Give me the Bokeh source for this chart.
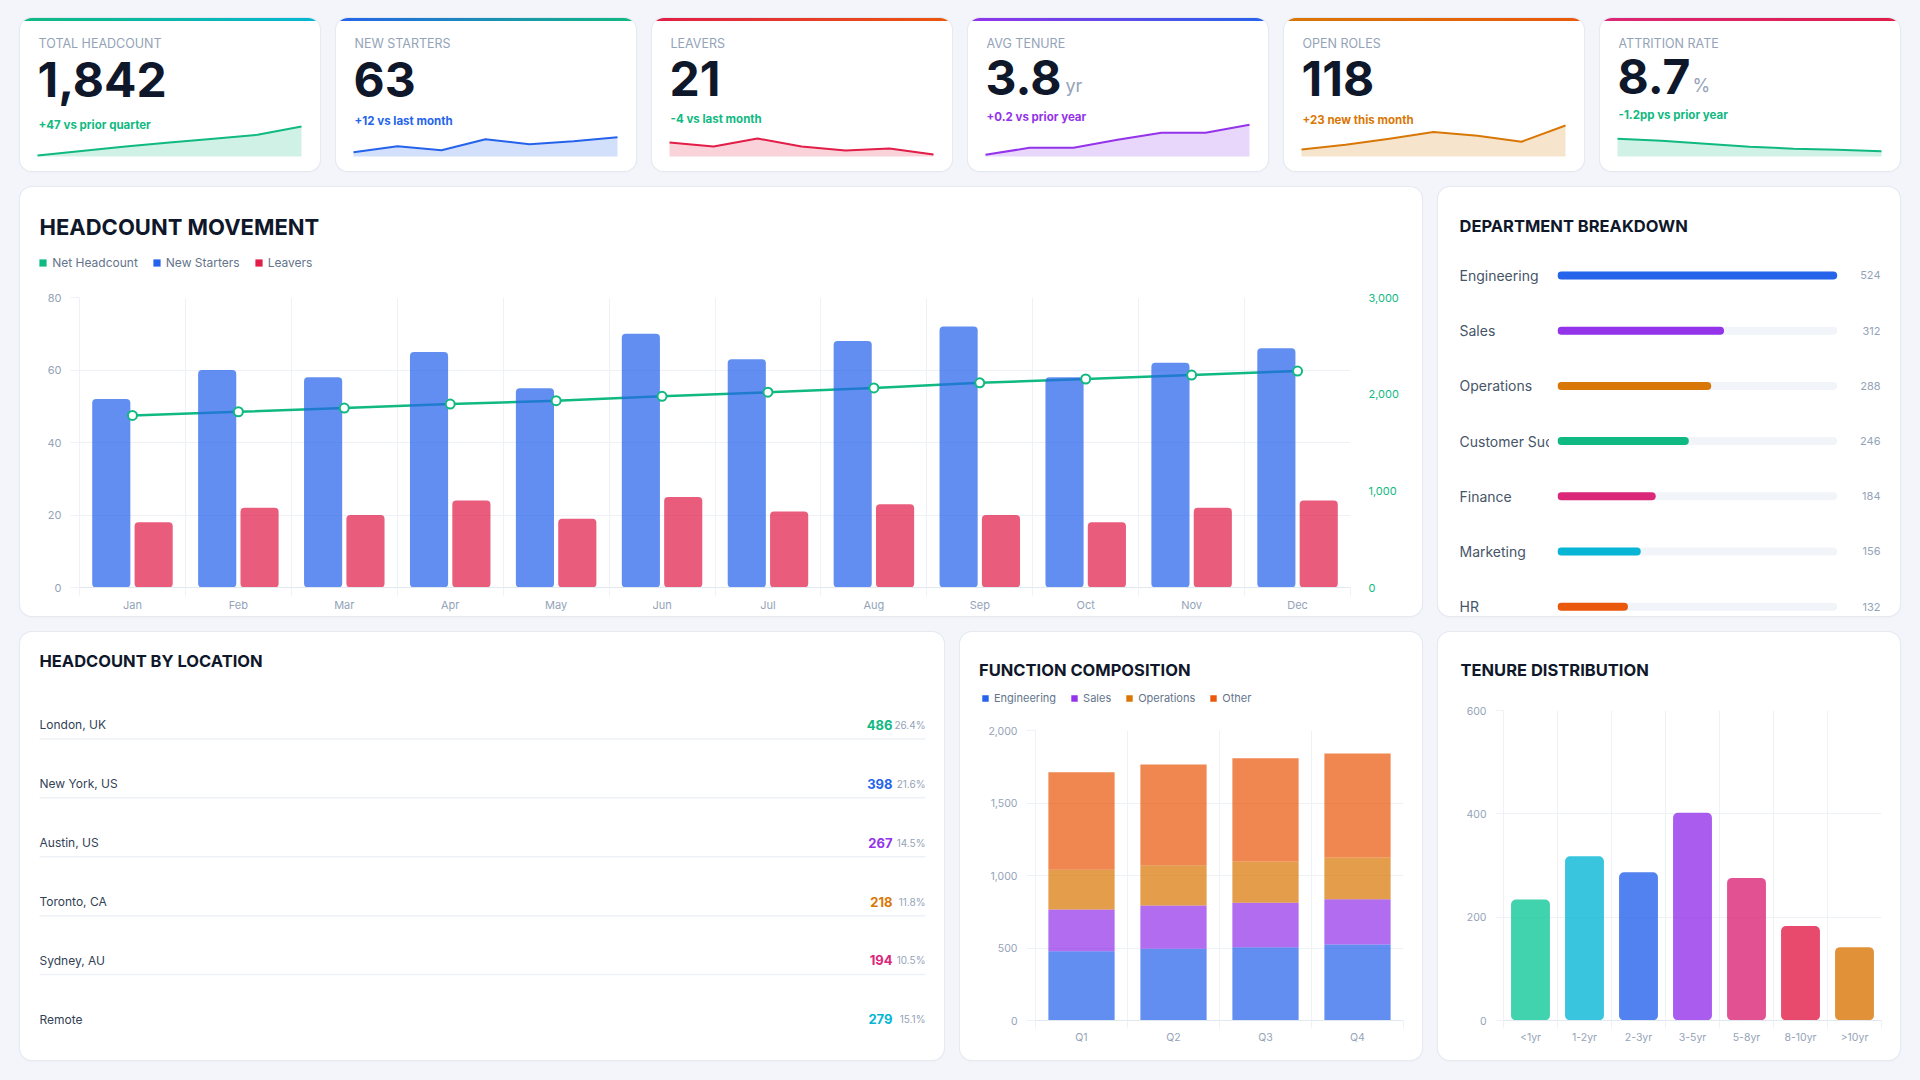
from bokeh.plotting import figure
from bokeh.layouts import row, column
from bokeh.models import (Range1d, LinearAxis, FixedTicker, NumeralTickFormatter, Label,
                          Legend, LegendItem, Grid, ColumnDataSource)
from bokeh.core.properties import value
from bokeh.embed import file_html
from bokeh.resources import INLINE

# ------------------------------------------------------------------ data
kpi_labels = ["TOTAL HEADCOUNT", "NEW STARTERS", "LEAVERS", "AVG TENURE", "OPEN ROLES", "ATTRITION RATE"]
kpi_values = ["1,842", "63", "21", "3.8", "118", "8.7"]
kpi_suffix = ["", "", "", "yr", "", "%"]
kpi_deltas = ["+47 vs prior quarter", "+12 vs last month", "-4 vs last month",
              "+0.2 vs prior year", "+23 new this month", "-1.2pp vs prior year"]
spark_headcount = [1790, 1798, 1806, 1813, 1820, 1827, 1842]
spark_starters = [48, 54, 50, 61, 56, 59, 63]
spark_leavers = [27, 25, 29, 25, 23, 24, 21]
spark_tenure = [3.5, 3.57, 3.57, 3.65, 3.72, 3.72, 3.8]
spark_open_roles = [78, 86, 96, 107, 101, 91, 118]
spark_attrition = [11.2, 10.8, 10.2, 9.6, 9.2, 9.0, 8.7]

months = ["Jan", "Feb", "Mar", "Apr", "May", "Jun", "Jul", "Aug", "Sep", "Oct", "Nov", "Dec"]
new_starters = [52, 60, 58, 65, 55, 70, 63, 68, 72, 58, 62, 66]
leavers = [18, 22, 20, 24, 19, 25, 21, 23, 20, 18, 22, 24]
net_headcount = [1780, 1818, 1856, 1897, 1933, 1978, 2020, 2065, 2117, 2157, 2197, 2239]

departments = ["Engineering", "Sales", "Operations", "Customer Success", "Finance", "Marketing", "HR"]
dept_counts = [524, 312, 288, 246, 184, 156, 132]

locations = ["London, UK", "New York, US", "Austin, US", "Toronto, CA", "Sydney, AU", "Remote"]
loc_counts = [486, 398, 267, 218, 194, 279]
loc_pcts = ["26.4%", "21.6%", "14.5%", "11.8%", "10.5%", "15.1%"]

quarters = ["Q1", "Q2", "Q3", "Q4"]
func_engineering = [478, 494, 506, 524]
func_sales = [288, 299, 306, 312]
func_operations = [274, 278, 285, 288]
func_other = [672, 694, 712, 718]

tenure_bands = ["<1yr", "1-2yr", "2-3yr", "3-5yr", "5-8yr", "8-10yr", ">10yr"]
tenure_counts = [234, 318, 287, 402, 276, 183, 142]

# ------------------------------------------------------------------ style
FONT = "Inter"
INK = "#0f172a"
MUTED = "#94a3b8"
SUB = "#64748b"
GRID = "#eef1f5"
GREEN, BLUE, RED, PURPLE = "#10b981", "#2563eb", "#e11d48", "#9333ea"
AMBER, ORANGE, PINK, CYAN = "#d97706", "#ea580c", "#db2777", "#06b6d4"
SHADOW = "0 0 0 1px #e5e9f0, 0 1px 3px rgba(15,23,42,0.05)"


def card_css(bg="#ffffff"):
    return {"border-radius": "12px", "overflow": "hidden", "box-shadow": SHADOW, "background": bg}


def base_fig(w, h, l, r, t, b, xr, yr):
    return figure(width=w, height=h, x_range=xr, y_range=yr, x_axis_type=None, y_axis_type=None,
                  toolbar_location=None, output_backend="svg",
                  min_border_left=l, min_border_right=r, min_border_top=t, min_border_bottom=b,
                  border_fill_color=None, background_fill_color=None, outline_line_color=None)


def put(p, text, cx, cy, fl, fb, size, color, bold=False, align="left", baseline="middle"):
    # cx, cy: canvas position (from top-left); fl, fb: frame left / frame bottom on the canvas
    p.add_layout(Label(x=cx - fl, y=fb - cy, x_units="screen", y_units="screen", text=text,
                       text_font=FONT, text_font_size=f"{size}px", text_color=color,
                       text_font_style="bold" if bold else "normal",
                       text_align=align, text_baseline=baseline))


def style_axis(ax, color=MUTED, size="11px"):
    ax.major_label_text_font = FONT
    ax.major_label_text_font_size = size
    ax.major_label_text_color = color


def legend(p, labels, colors, loc, size, glyph):
    # zero-height swatch renderers: they draw nothing, they only feed the legend
    items = []
    for lab, c in zip(labels, colors):
        r = p.vbar(x=[0.5], top=[0], bottom=0, width=0.01, fill_color=c, line_color=None)
        items.append(LegendItem(label=lab, renderers=[r]))
    lg = Legend(items=items, orientation="horizontal", location=loc, glyph_width=glyph,
                glyph_height=glyph, label_height=glyph, label_standoff=5, spacing=14, padding=0,
                margin=0, border_line_color=None, background_fill_alpha=0,
                label_text_font=FONT, label_text_font_size=size, label_text_color=SUB)
    p.add_layout(lg)


def header(w, h):
    return base_fig(w, h, 0, 0, 0, 0, Range1d(0, 1), Range1d(0, 1))


def band_axis(p, centers, names, n, size):
    # labels at band centres, small tick marks at band boundaries (minor ticks)
    ax = LinearAxis(ticker=FixedTicker(ticks=centers, minor_ticks=list(range(n + 1))),
                    major_label_overrides={c: m for c, m in zip(centers, names)},
                    axis_line_color="#e2e8f0", major_tick_line_color=None, major_tick_out=0,
                    major_tick_in=0, minor_tick_line_color=GRID, minor_tick_out=8, minor_tick_in=0,
                    major_label_standoff=2)
    style_axis(ax, size=size)
    p.add_layout(ax, "below")


def value_axis(p, ticks, size, tick_out, fmt=None):
    ax = LinearAxis(ticker=FixedTicker(ticks=ticks), axis_line_color=GRID,
                    major_tick_line_color=GRID, major_tick_out=tick_out, major_tick_in=0,
                    minor_tick_line_color=None, major_label_standoff=9)
    if fmt:
        ax.formatter = NumeralTickFormatter(format=fmt)
    style_axis(ax, size=size)
    p.add_layout(ax, "left")


# ------------------------------------------------------------------ KPI cards
spark_series = [spark_headcount, spark_starters, spark_leavers, spark_tenure, spark_open_roles, spark_attrition]
spark_ranges = [(1788, 1867), (43.7, 87.7), (20, 42), (3.483, 3.923), (66.3, 139.7), (7.64, 16.44)]
spark_colors = [GREEN, BLUE, RED, PURPLE, AMBER, GREEN]
delta_colors = [GREEN, BLUE, GREEN, PURPLE, AMBER, GREEN]
top_grad = [(GREEN, CYAN), (BLUE, GREEN), (RED, ORANGE), (PURPLE, BLUE), (AMBER, ORANGE), (PINK, RED)]
value_mid = [61.2, 61.2, 60.3, 58.7, 60.3, 58.3]
delta_y = [106.3, 102, 100.3, 98.7, 101, 96.3]
suffix_x = [0, 0, 0, 97, 0, 92]

kpis = []
KW, KH = 300, 153
sl, sr, st, sb = 17, 281, 94, 138   # sparkline box inside the card
for i in range(6):
    vals = spark_series[i]
    lo, hi = spark_ranges[i]
    xs = list(range(len(vals)))
    pxx = (sr - sl) / (len(vals) - 1)
    ky = (hi - lo) / (sb - st)
    c1, c2 = top_grad[i]
    p = base_fig(KW, KH, 0, 0, 0, 0,
                 Range1d(-sl / pxx, (KW - sl) / pxx),
                 Range1d(lo - (KH - sb) * ky, hi + st * ky))
    p.varea(x=xs, y1=lo, y2=vals, fill_color=spark_colors[i], fill_alpha=0.2)
    p.line(xs, vals, line_color=spark_colors[i], line_width=2, line_join="round")
    put(p, kpi_labels[i], 18, 24.7, 0, KH, 12.5, MUTED)
    put(p, kpi_values[i], 17, value_mid[i], 0, KH, 48, INK, bold=True)
    if kpi_suffix[i]:
        put(p, kpi_suffix[i], suffix_x[i], 66.5, 0, KH, 18, MUTED)
    put(p, kpi_deltas[i], 18, delta_y[i], 0, KH, 11.5, delta_colors[i], bold=True)
    kpis.append(column(p, styles=card_css(
        f"linear-gradient(#ffffff, #ffffff) 0 3px / 100% 100% no-repeat, linear-gradient(90deg, {c1}, {c2})")))

# ------------------------------------------------------------------ Headcount movement
MW, MH, MHH = 1402, 429, 100
ml, mr, mt, mb = 59, 72, 10, 29
n = len(months)
centers = [i + 0.5 for i in range(n)]
mh = header(MW, MHH)
put(mh, "HEADCOUNT MOVEMENT", 19, 39.7, 0, MHH, 22, INK, bold=True)
legend(mh, ["Net Headcount", "New Starters", "Leavers"], [GREEN, BLUE, RED], (18.2, MHH - 83.2), "12px", 9)

mp = base_fig(MW, MH - MHH, ml, mr, mt, mb, Range1d(0, n), Range1d(0, 80))
mp.extra_y_ranges = {"hc": Range1d(0, 3000)}
mp.add_layout(Grid(dimension=0, ticker=FixedTicker(ticks=list(range(n + 1))), grid_line_color=GRID))
mp.add_layout(Grid(dimension=1, ticker=FixedTicker(ticks=[0, 20, 40, 60, 80]), grid_line_color=GRID))
msrc = ColumnDataSource(dict(c=centers, s=new_starters, l=leavers, net=net_headcount,
                             xs=[c - 0.2 for c in centers], xl=[c + 0.2 for c in centers]))
mp.line("c", "net", source=msrc, y_range_name="hc", line_color=GREEN, line_width=2.5)
mp.vbar(x="xs", top="s", source=msrc, width=0.36, fill_color=BLUE, fill_alpha=0.72,
        line_color=None, border_radius=4)
mp.vbar(x="xl", top="l", source=msrc, width=0.36, fill_color=RED, fill_alpha=0.72,
        line_color=None, border_radius=4)
mp.scatter("c", "net", source=msrc, y_range_name="hc", size=9, fill_color="white",
           line_color=GREEN, line_width=2)
band_axis(mp, centers, months, n, "11px")
value_axis(mp, [0, 20, 40, 60, 80], "11px", 9)
rax = LinearAxis(y_range_name="hc", ticker=FixedTicker(ticks=[0, 1000, 2000, 3000]),
                 formatter=NumeralTickFormatter(format="0,0"), axis_line_color=None,
                 major_tick_line_color=None, minor_tick_line_color=None, major_tick_out=0,
                 major_label_standoff=18)
style_axis(rax, color=GREEN)
mp.add_layout(rax, "right")
move_card = column(mh, row(mp), spacing=0, styles=card_css())

# ------------------------------------------------------------------ Department breakdown
DW = 462
dept_colors = [BLUE, PURPLE, AMBER, GREEN, PINK, CYAN, ORANGE]
didx = list(range(len(departments)))
dmax = max(dept_counts)
dy_range = Range1d(6.178, -0.507)
dt = header(DW, 60)
put(dt, "DEPARTMENT BREAKDOWN", 21, 38, 0, 60, 16.5, INK, bold=True)
dn = base_fig(111, 369, 21, 0, 0, 0, Range1d(0, 1), dy_range)
dn.text(x=0, y=didx, text=departments, text_font=value(FONT), text_font_size="14px",
        text_color="#475569", text_baseline="middle", text_align="left")
db = base_fig(351, 369, 8, 15, 0, 0, Range1d(0, dmax * 328 / 279.7), dy_range)
db.hbar(y=didx, left=0, right=dmax, height=0.145, fill_color="#f1f5f9", line_color=None, border_radius=4)
db.hbar(y=didx, left=0, right=dept_counts, height=0.145, fill_color=dept_colors, line_color=None,
        border_radius=4)
db.text(x=dmax * 323 / 279.7, y=didx, text=[str(v) for v in dept_counts], text_font=value(FONT),
        text_font_size="11px", text_color=MUTED, text_baseline="middle", text_align="right")
dept_card = column(dt, row(dn, db, spacing=0), spacing=0, styles=card_css())

# ------------------------------------------------------------------ Headcount by location
LW, LH = 924, 428
loc_colors = [GREEN, BLUE, PURPLE, AMBER, PINK, CYAN]
lidx = list(range(len(locations)))
row0, rstep, lx0, lx1 = 92.3, 58.9, 19, 905     # list geometry inside the card
lp = base_fig(LW, LH, 0, 0, 0, 0,
              Range1d(-lx0 / (lx1 - lx0), (LW - lx0) / (lx1 - lx0)),
              Range1d((LH - row0) / rstep, -row0 / rstep))
lp.segment(x0=0, x1=1, y0=[i + 0.24 for i in lidx[:-1]], y1=[i + 0.24 for i in lidx[:-1]],
           line_color="#eef2f6", line_width=1.5)
lp.text(x=0, y=lidx, text=locations, text_font=value(FONT), text_font_size="12px",
        text_color="#334155", text_baseline="middle", text_align="left")
lp.text(x=1, y=lidx, text=[str(v) for v in loc_counts], x_offset=-33, text_font=value(FONT),
        text_font_size="13px", text_font_style="bold", text_color=loc_colors,
        text_baseline="middle", text_align="right")
lp.text(x=1, y=lidx, text=loc_pcts, text_font=value(FONT), text_font_size="10px",
        text_color=MUTED, text_baseline="middle", text_align="right")
put(lp, "HEADCOUNT BY LOCATION", 19, 28, 0, LH, 16.5, INK, bold=True)
loc_card = column(lp, styles=card_css())

# ------------------------------------------------------------------ Function composition
FW, FH, FHH = 462, 428, 88
fl_, fr_, ft_, fb_ = 75, 19, 10, 40
qc = [i + 0.5 for i in range(len(quarters))]
fh = header(FW, FHH)
put(fh, "FUNCTION COMPOSITION", 18.5, 37.3, 0, FHH, 16.5, INK, bold=True)
legend(fh, ["Engineering", "Sales", "Operations", "Other"], [BLUE, PURPLE, AMBER, ORANGE],
       (21, FHH - 72.7), "11px", 8)
fp = base_fig(FW, FH - FHH, fl_, fr_, ft_, fb_, Range1d(0, len(quarters)), Range1d(0, 2000))
fp.add_layout(Grid(dimension=0, ticker=FixedTicker(ticks=list(range(len(quarters) + 1))), grid_line_color=GRID))
fp.add_layout(Grid(dimension=1, ticker=FixedTicker(ticks=[0, 500, 1000, 1500, 2000]), grid_line_color=GRID))
fsrc = ColumnDataSource(dict(x=qc, eng=func_engineering, sales=func_sales, ops=func_operations, other=func_other))
fp.vbar_stack(["eng", "sales", "ops", "other"], x="x", width=0.72, source=fsrc,
              fill_color=[BLUE, PURPLE, AMBER, ORANGE], fill_alpha=0.72, line_color=None)
band_axis(fp, qc, quarters, len(quarters), "10.5px")
value_axis(fp, [0, 500, 1000, 1500, 2000], "10.5px", 9, fmt="0,0")
func_card = column(fh, row(fp), spacing=0, styles=card_css())

# ------------------------------------------------------------------ Tenure distribution
TW, TH, THH = 462, 428, 68
tl_, tr_, tt_, tb_ = 65, 19, 10, 40
tc = [i + 0.5 for i in range(len(tenure_bands))]
tenure_colors = ["#12c79a", CYAN, BLUE, PURPLE, PINK, RED, AMBER]
th = header(TW, THH)
put(th, "TENURE DISTRIBUTION", 22, 37.3, 0, THH, 16.5, INK, bold=True)
tp = base_fig(TW, TH - THH, tl_, tr_, tt_, tb_, Range1d(0, len(tenure_bands)), Range1d(0, 600))
tp.add_layout(Grid(dimension=0, ticker=FixedTicker(ticks=list(range(len(tenure_bands) + 1))), grid_line_color=GRID))
tp.add_layout(Grid(dimension=1, ticker=FixedTicker(ticks=[0, 200, 400, 600]), grid_line_color=GRID))
tp.vbar(x=tc, top=tenure_counts, width=0.72, fill_color=tenure_colors, fill_alpha=0.8,
        line_color=None, border_radius=5)
band_axis(tp, tc, tenure_bands, len(tenure_bands), "10.5px")
value_axis(tp, [0, 200, 400, 600], "10.5px", 8)
ten_card = column(th, row(tp), spacing=0, styles=card_css())

# ------------------------------------------------------------------ page
root = column(
    row(*kpis, spacing=16),
    row(move_card, dept_card, spacing=16),
    row(loc_card, func_card, ten_card, spacing=16),
    spacing=16,
    styles={"padding": "18px 20px 20px 20px", "background-color": "#f3f5fa"},
)

open("out.html", "w").write(file_html(root, INLINE, title="HR Dashboard"))
